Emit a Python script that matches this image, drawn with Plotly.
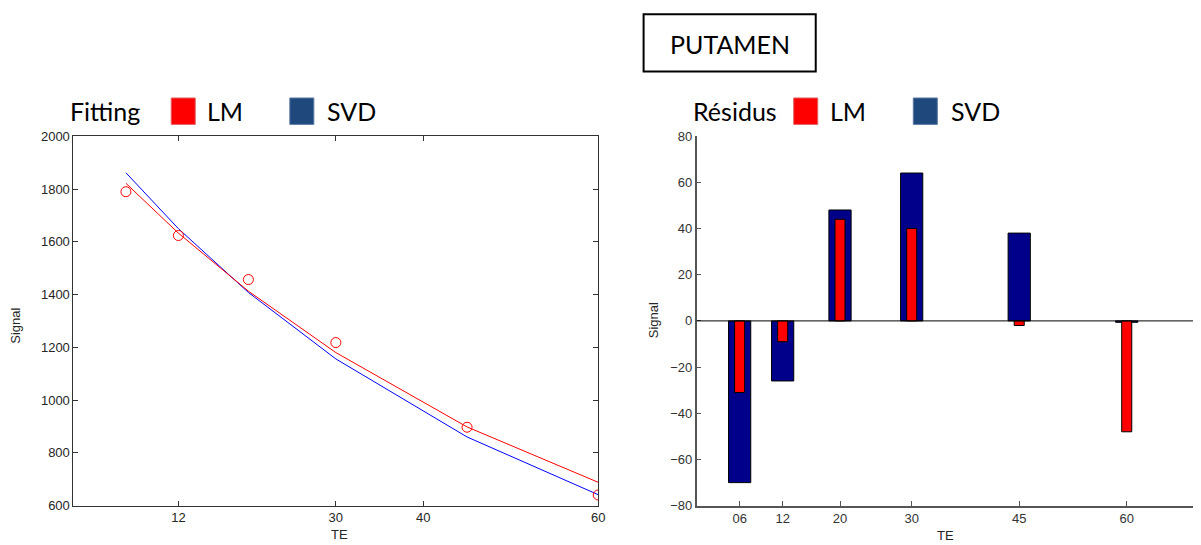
import plotly.graph_objects as go

# ---- data ----
te = [6, 12, 20, 30, 45, 60]
signal = [1790, 1624, 1457, 1218, 897, 640]
fit_lm = [1822, 1633, 1413, 1180, 898, 688]
fit_svd = [1862, 1650, 1408, 1156, 860, 641]
te_labels = ["06", "12", "20", "30", "45", "60"]
res_lm = [-31, -9, 44, 40, -2, -48]
res_svd = [-70, -26, 48, 64, 38, -0.6]
left_xticks = [12, 30, 40, 60]
left_yticks = [600, 800, 1000, 1200, 1400, 1600, 1800, 2000]
right_yticks = [-80, -60, -40, -20, 0, 20, 40, 60, 80]

W, H = 1201, 545
# map target picture pixels to paper fractions (page offset/scale compensation)
def px(x): return ((x - 7.9) / 0.9934) / W
def py(y): return 1 - ((y - 13.2) / 0.976) / H

fig = go.Figure()

# Left: fitting
fig.add_trace(go.Scatter(x=te, y=fit_svd, mode="lines", line=dict(color="#0000FF", width=1),
                         xaxis="x", yaxis="y", showlegend=False))
fig.add_trace(go.Scatter(x=te, y=fit_lm, mode="lines", line=dict(color="#FF0000", width=1),
                         xaxis="x", yaxis="y", showlegend=False))
fig.add_trace(go.Scatter(x=te, y=signal, mode="markers",
                         marker=dict(symbol="circle-open", color="#FF0000", size=10, line=dict(width=1)),
                         xaxis="x", yaxis="y", showlegend=False))

# Right: residuals
fig.add_trace(go.Bar(x=te, y=res_svd, width=3.1, marker=dict(color="#00008B", line=dict(color="#000000", width=1)),
                     xaxis="x2", yaxis="y2", showlegend=False))
fig.add_trace(go.Bar(x=te, y=res_lm, width=1.4, marker=dict(color="#FF0000", line=dict(color="#000000", width=1)),
                     xaxis="x2", yaxis="y2", showlegend=False))

lfont = dict(family="Liberation Sans, Arial", size=13, color="#262626")
rfont = dict(family="Liberation Sans, Arial", size=13, color="#333333")
left_common = dict(showgrid=False, zeroline=False, ticks="inside", ticklen=5, tickcolor="#333",
                   linecolor="#333", linewidth=1, tickfont=lfont, showline=True, mirror="ticks")
right_common = dict(showgrid=False, zeroline=False, ticks="inside", ticklen=5, tickcolor="#555",
                    linecolor="#555", linewidth=1.5, tickfont=rfont, showline=True)

fig.update_layout(
    width=W, height=H, margin=dict(l=0, r=0, t=0, b=0),
    paper_bgcolor="white", plot_bgcolor="white", barmode="overlay",
    xaxis=dict(domain=[px(73.3), px(597.7)], range=[0, 60], tickvals=left_xticks, anchor="y", **left_common),
    yaxis=dict(domain=[py(505.5), py(135)], range=[600, 2000], tickvals=left_yticks, anchor="x", **left_common),
    xaxis2=dict(domain=[px(696), min(1.0, px(1201))], range=[0, 70.5], tickvals=te, ticktext=te_labels,
                anchor="y2", **right_common),
    yaxis2=dict(domain=[py(505.7), py(134.7)], range=[-80, 80], tickvals=right_yticks, anchor="x2",
                **right_common),
)

# zero line on residual plot
fig.add_shape(type="line", xref="x2 domain", yref="y2", x0=0, x1=1, y0=0, y1=0,
              line=dict(color="#000000", width=1))

# axis titles
lbl = dict(family="Liberation Sans, Arial", size=13, color="#262626")
def ann(text, x, y, font, xanchor="center", **kw):
    fig.add_annotation(text=text, x=px(x), y=py(y), xref="paper", yref="paper", showarrow=False,
                       font=font, xanchor=xanchor, yanchor="middle", **kw)

ann("TE", 339, 535, lbl)
ann("TE", 945, 536, lbl)
ann("Signal", 16, 325, lbl, textangle=-90)
ann("Signal", 653, 320, lbl, textangle=-90)

# Title box
big = dict(family="Lato, Open Sans, sans-serif", size=25, color="#000000")
fig.add_shape(type="rect", xref="paper", yref="paper", x0=px(643), x1=px(815), y0=py(70), y1=py(12.5),
              line=dict(color="#000000", width=2), fillcolor="white")
ann("PUTAMEN", 729, 42, big)

# Custom legends
def legend(label, lx, sq1, t1x, sq2, t2x):
    ann(label, lx, 110, big, xanchor="left")
    fig.add_shape(type="rect", xref="paper", yref="paper", x0=px(sq1), x1=px(sq1 + 24), y0=py(123), y1=py(96.5),
                  line=dict(color="#E06060", width=1), fillcolor="#FF0000")
    ann("LM", t1x, 110, big, xanchor="left")
    fig.add_shape(type="rect", xref="paper", yref="paper", x0=px(sq2), x1=px(sq2 + 24), y0=py(123), y1=py(96.5),
                  line=dict(color="#5A7AA5", width=1), fillcolor="#1F497D")
    ann("SVD", t2x, 110, big, xanchor="left")

legend("Fitting", 68, 171, 205, 289.5, 325)
legend("Résidus", 690, 793, 827, 912.5, 948)

fig.write_html("out.html")
